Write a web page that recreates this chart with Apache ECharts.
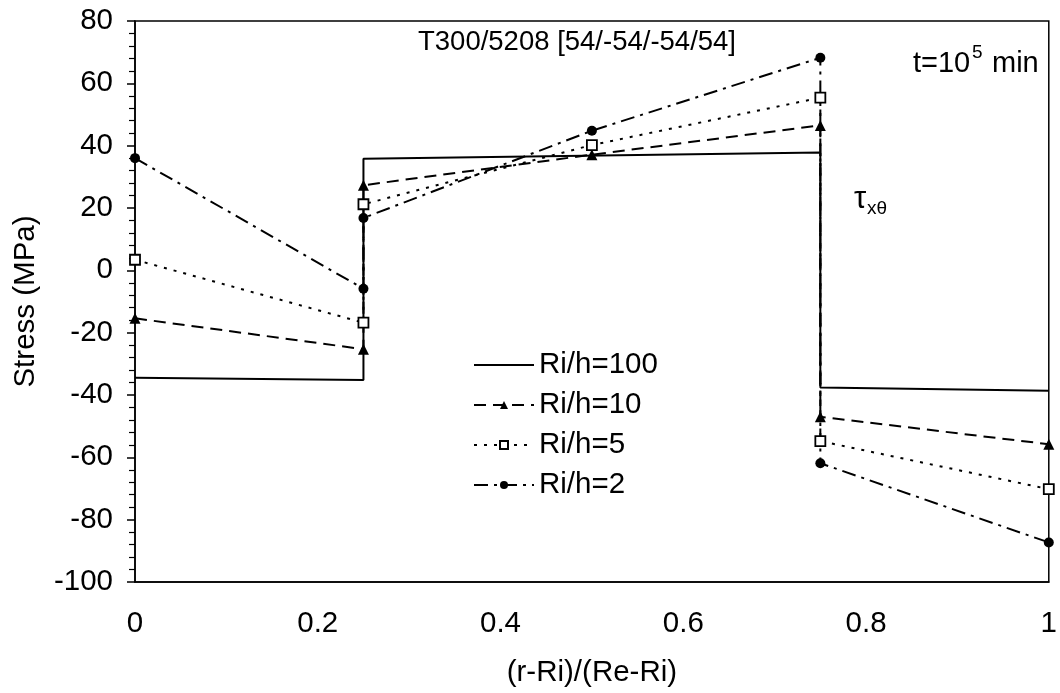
<!DOCTYPE html>
<html>
<head>
<meta charset="utf-8">
<script src="https://cdn.jsdelivr.net/npm/echarts@6/dist/echarts.min.js"></script>
<style>html,body{margin:0;padding:0;background:#fff}#c{width:1060px;height:693px}</style>
</head>
<body>
<div id="c"></div>
<script>
// x positions (r-Ri)/(Re-Ri); repeated x values form the jumps at ply interfaces
const xPos = [0, 0.25, 0.25, 0.5, 0.75, 0.75, 1];
const ri100 = [-34.5, -35.2, 35.8, null, 37.8, -37.6, -38.6];
const ri10  = [-15.4, -25.3, 27.3, 37.1, 46.5, -47.0, -55.8];
const ri5   = [3.4, -16.8, 21.2, 40.2, 55.4, -54.8, -70.2];
const ri2   = [36.0, -5.9, 16.8, 44.8, 68.2, -61.9, -87.3];
const seriesNames = ['Ri/h=100', 'Ri/h=10', 'Ri/h=5', 'Ri/h=2'];
const xTicks = [0, 0.2, 0.4, 0.6, 0.8, 1];
const yTicks = [-100, -80, -60, -40, -20, 0, 20, 40, 60, 80];

function pairs(vals) {
  const out = [];
  for (let i = 0; i < xPos.length; i++) if (vals[i] !== null) out.push([xPos[i], vals[i]]);
  return out;
}

const FONT = 'Liberation Sans';
const FS = 29.5;
const chart = echarts.init(document.getElementById('c'));
const base = { type: 'line', animation: false, z: 3, color: '#000' };

chart.setOption({
  backgroundColor: '#fff',
  textStyle: { fontFamily: FONT, color: '#000' },
  grid: { left: 135, right: 6, top: 21, bottom: 110, show: true, borderColor: '#000', borderWidth: 1.5 },
  xAxis: {
    type: 'value', min: xTicks[0], max: xTicks[xTicks.length - 1], interval: 0.2,
    name: '(r-Ri)/(Re-Ri)', nameLocation: 'middle', nameGap: 76,
    nameTextStyle: { fontSize: FS, color: '#000', fontFamily: FONT },
    axisLine: { show: true, onZero: false, lineStyle: { color: '#000', width: 1.5 } },
    axisTick: { show: false },
    axisLabel: { fontSize: FS, color: '#000', margin: 27, fontFamily: FONT },
    splitLine: { show: false }
  },
  yAxis: {
    type: 'value', min: yTicks[0], max: yTicks[yTicks.length - 1], interval: 20,
    name: 'Stress (MPa)', nameLocation: 'middle', nameGap: 94,
    nameTextStyle: { fontSize: FS, color: '#000', fontFamily: FONT },
    axisLine: { show: true, onZero: false, lineStyle: { color: '#000', width: 1.5 } },
    axisTick: { show: true, inside: false, length: 8, lineStyle: { color: '#000', width: 1.5 } },
    minorTick: { show: true, splitNumber: 5, length: 6, lineStyle: { color: '#000', width: 1.2 } },
    axisLabel: { fontSize: FS, color: '#000', margin: 22, fontFamily: FONT },
    splitLine: { show: false }
  },
  legend: {
    orient: 'vertical', left: 468, top: 345, itemWidth: 60, itemHeight: 10, itemGap: 10,
    textStyle: { fontSize: FS, color: '#000', fontFamily: FONT, lineHeight: 30 },
    data: [{ name: seriesNames[0], itemStyle: { opacity: 0 } }, seriesNames[1], seriesNames[2], seriesNames[3]]
  },
  graphic: [
    { type: 'text', left: 418, top: 28, style: { text: 'T300/5208 [54/-54/-54/54]', font: '27.5px "Liberation Sans"', fill: '#000' } },
    { type: 'text', left: 913, top: 49, style: { text: 't=10', font: '29px "Liberation Sans"', fill: '#000' } },
    { type: 'text', left: 972, top: 43, style: { text: '5', font: '19px "Liberation Sans"', fill: '#000' } },
    { type: 'text', left: 992, top: 49, style: { text: 'min', font: '29px "Liberation Sans"', fill: '#000' } },
    { type: 'text', left: 854, top: 184, style: { text: 'τ', font: '31px "Liberation Sans"', fill: '#000' } },
    { type: 'text', left: 867, top: 199, style: { text: 'xθ', font: '19px "Liberation Sans"', fill: '#000' } }
  ],
  series: [
    Object.assign({}, base, { name: seriesNames[0], data: pairs(ri100), symbol: 'circle', symbolSize: 0, showSymbol: false,
      itemStyle: { color: '#000', opacity: 0 }, lineStyle: { color: '#000', width: 2, type: 'solid', opacity: 1 } }),
    Object.assign({}, base, { name: seriesNames[1], data: pairs(ri10), symbol: 'triangle', symbolSize: 11,
      itemStyle: { color: '#000' }, lineStyle: { color: '#000', width: 2, type: [12, 7] } }),
    Object.assign({}, base, { name: seriesNames[2], data: pairs(ri5), symbol: 'rect', symbolSize: 10,
      itemStyle: { color: '#fff', borderColor: '#000', borderWidth: 1.8 }, lineStyle: { color: '#000', width: 2, type: [3, 7] } }),
    Object.assign({}, base, { name: seriesNames[3], data: pairs(ri2), symbol: 'circle', symbolSize: 10,
      itemStyle: { color: '#000' }, lineStyle: { color: '#000', width: 2, type: [14, 6, 3, 6] } })
  ]
});
</script>
</body>
</html>
